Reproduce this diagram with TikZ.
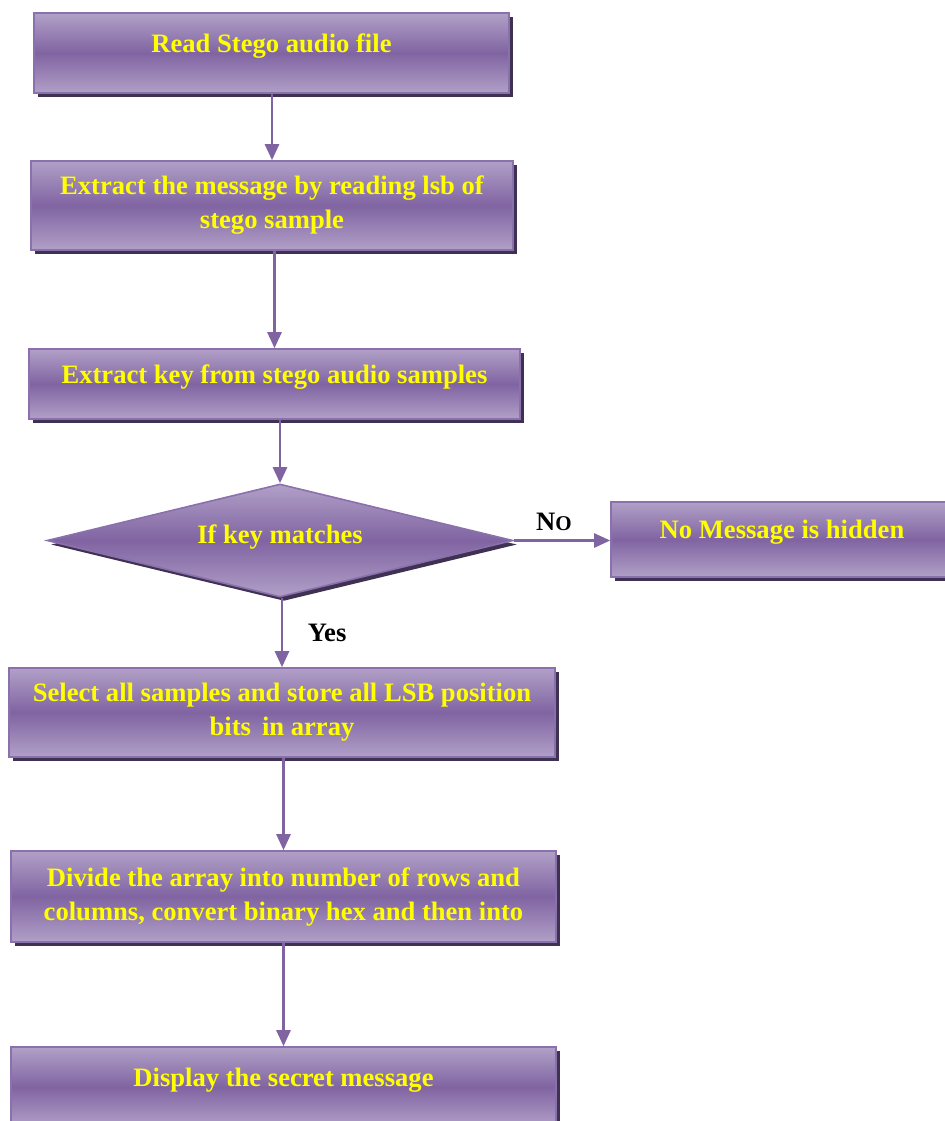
\documentclass[tikz,border=0pt]{standalone}
\usepackage{fontspec}
\setmainfont{Liberation Serif}
\usepackage{tikz}
\usetikzlibrary{arrows.meta, positioning, shapes.geometric, shadows}

\definecolor{boxlight}{HTML}{B1A0C7}
\definecolor{boxdark}{HTML}{8064A2}
\definecolor{boxline}{HTML}{8A70AC}
\definecolor{boxshadow}{HTML}{3F3151}
\definecolor{textyellow}{HTML}{FFFF00}

\begin{document}
\begin{tikzpicture}[x=0.5pt, y=-0.5pt,
    box/.style={draw=boxline, line width=0.8pt, top color=boxlight, bottom color=boxlight, middle color=boxdark,
        align=center, inner sep=0pt, text=textyellow, font=\fontsize{13.3}{17}\selectfont\bfseries,
        drop shadow={shadow xshift=2pt, shadow yshift=-2pt, fill=boxshadow, opacity=1}},
    oneline/.style={text height=9pt, text depth=10pt},
    decision/.style={box, diamond, aspect=4.12, text height=9pt, text depth=6pt},
    signal/.style={-{Triangle[width=7pt, length=8pt]}, draw=boxdark, line width=1.3pt},
    label/.style={font=\fontsize{13.3}{16}\selectfont\bfseries, text=black}
]
\useasboundingbox (0,0) rectangle (945,1121);

% Steps of the extraction
\node[box, oneline, minimum width=237.5pt, minimum height=40pt] (readfile) at (271.5,53) {Read Stego audio file};

\node[box, minimum width=241pt, minimum height=44.5pt] (extractmsg) at (272,205.5) {Extract the message by reading lsb of\\stego sample};

\node[box, oneline, minimum width=245.5pt, minimum height=35pt] (extractkey) at (274.5,384) {Extract key from stego audio samples};

% Key check
\node[decision, minimum width=233pt, minimum height=56.5pt] (keycheck) at (280,540.5) {If key matches};

\node[box, oneline, minimum width=171pt, minimum height=37.5pt] (nomsg) at (782,539.5) {No Message is hidden};

\node[box, minimum width=273pt, minimum height=44.5pt] (selectlsb) at (282,712.5) {Select all samples and store all LSB position\\bits\, in array};

\node[box, minimum width=272.5pt, minimum height=45.5pt] (divide) at (283.5,896.5) {Divide the array into number of rows and\\columns, convert binary hex and then into};

\node[box, oneline, minimum width=272.5pt, minimum height=40pt] (display) at (283.5,1087) {Display the secret message};

% Connections
\draw[signal] (readfile.south -| extractmsg) -- (extractmsg);
\draw[signal] (extractmsg.south -| extractkey) -- (extractkey);
\draw[signal] (extractkey.south -| keycheck) -- (keycheck);
\draw[signal] (keycheck.south -| selectlsb) -- node[label, right=9pt] {Yes} (selectlsb);
\draw[signal] (keycheck.east) -- node[label, above=1pt, xshift=-4pt] {N{\fontsize{10.5}{12}\selectfont O}} (keycheck.east -| nomsg.west);
\draw[signal] (selectlsb.south -| divide) -- (divide);
\draw[signal] (divide.south -| display) -- (display);

\end{tikzpicture}
\end{document}
